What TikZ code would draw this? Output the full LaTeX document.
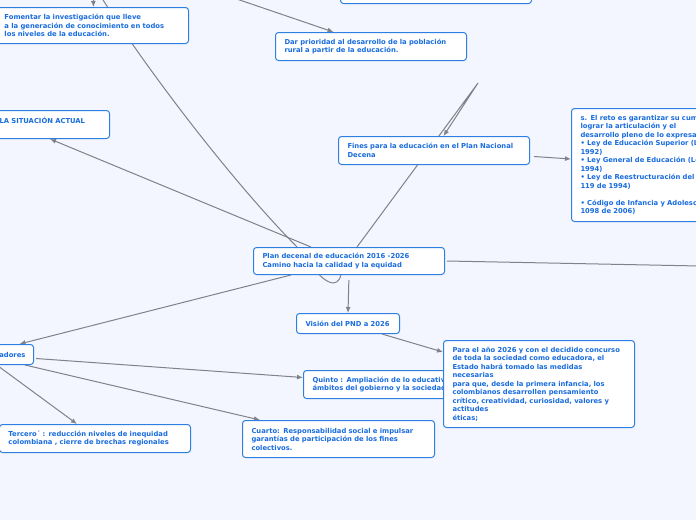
\documentclass[tikz,border=0pt]{standalone}
\usepackage{fontspec}
\newfontfamily\mapfont{DejaVu Sans}
\usetikzlibrary{arrows.meta}

\definecolor{paper}{RGB}{243,246,254}
\definecolor{boxblue}{RGB}{45,128,226}
\definecolor{inkblue}{RGB}{25,108,222}
\definecolor{wiregray}{RGB}{128,130,138}

\pgfdeclarelayer{bg}
\pgfdeclarelayer{wires}
\pgfsetlayers{bg,wires,main}

\tikzset{
  idea/.style={draw=boxblue, fill=white, line width=1pt, rounded corners=3pt,
    anchor=north west, inner xsep=9pt, inner ysep=2pt, align=left, text=inkblue,
    font={\mapfont\bfseries\fontsize{6.8}{8.5}\selectfont}},
  wire/.style={draw=wiregray, line width=1pt},
  link/.style={wire, -{Latex[length=6pt,width=5pt]}},
}

\begin{document}
\begin{tikzpicture}[x=1pt, y=-1pt]
  \useasboundingbox (0,0) rectangle (696,520);
  \begin{pgfonlayer}{bg}
    \fill[paper] (0,0) rectangle (696,520);
  \end{pgfonlayer}

  % ideas
  \node[idea, minimum width=193pt, minimum height=36pt, text width=175pt] (fomentar) at (-5,7)
    {Fomentar la investigación que lleve\\a la generación de conocimiento en todos\\los niveles de la educación.};
  \node[idea, anchor=south west, minimum width=191pt, minimum height=30pt] (arriba) at (340,4) {};
  \node[idea, minimum width=191pt, minimum height=28pt, text width=173pt] (rural) at (275,32)
    {Dar prioridad al desarrollo de la población\\rural a partir de la educación.};
  \node[idea, anchor=north east, minimum height=28pt, text width=101pt] (situacion) at (110,110)
    {LA SITUACIÓN ACTUAL\\\mbox{}};
  \node[idea, minimum width=191pt, minimum height=28pt, text width=173pt] (fines) at (338,136)
    {Fines para la educación en el Plan Nacional\\Decena};
  \node[idea, minimum width=200pt, minimum height=113pt, text width=182pt] (reto) at (571,108)
    {s. El reto es garantizar su cumplimiento,\\lograr la articulación y el\\desarrollo pleno de lo expresado\\%
     • Ley de Educación Superior (Ley 30 de\\1992)\\• Ley General de Educación (Ley 115 de\\1994)\\%
     • Ley de Reestructuración del SENA (Ley\\119 de 1994)\\[8.5pt]%
     • Código de Infancia y Adolescencia (Ley\\1098 de 2006)};
  \node[idea, minimum width=191pt, minimum height=27pt, text width=173pt] (plan) at (253,247)
    {Plan decenal de educación 2016 -2026\\Camino hacia la calidad y la equidad};
  \node[idea, minimum width=103pt, minimum height=20pt, text width=85pt] (vision) at (296,313)
    {Visión del PND a 2026};
  \node[idea, anchor=north east, minimum height=20pt, text width=60pt, align=right, inner xsep=8pt] (formadores) at (34,344)
    {adores};
  \node[idea, minimum width=191pt, minimum height=28pt, text width=173pt] (quinto) at (303,370)
    {Quinto : Ampliación de lo educativo a los\\ámbitos del gobierno y la sociedad};
  \node[idea, minimum width=191pt, minimum height=87pt, text width=173pt] (meta) at (443,340)
    {Para el año 2026 y con el decidido concurso\\de toda la sociedad como educadora, el\\Estado habrá tomado las medidas\\necesarias\\%
     para que, desde la primera infancia, los\\colombianos desarrollen pensamiento\\crítico, creatividad, curiosidad, valores y\\actitudes\\éticas;};
  \node[idea, minimum width=191pt, minimum height=28pt, text width=173pt] (tercero) at (-1,424)
    {Tercero´ : reducción niveles de inequidad\\colombiana , cierre de brechas regionales};
  \node[idea, minimum width=192pt, minimum height=37pt, text width=174pt] (cuarto) at (242,420)
    {Cuarto: Responsabilidad social e impulsar\\garantías de participación de los fines\\colectivos.};

  % loose ends
  \coordinate (fomcut) at (93,-10);
  \coordinate (curvecut) at (100,-5);
  \coordinate (ruralcut) at (225,-5);
  \coordinate (vuelta) at (478,83);
  \coordinate (derecha) at (700,266);
  \coordinate (izquierda) at (-6,363);

  % connectors
  \begin{pgfonlayer}{wires}
    \draw[link] (fomcut) -- ([xshift=1.5pt]fomentar.north);
    \draw[wire] (curvecut) .. controls (140,60) and (230,180) .. (300,250)
      .. controls (326,290) and (338,287) .. ([xshift=-8pt]plan.south);
    \draw[link] (ruralcut) -- ([xshift=-37.5pt]rural.north);
    \draw[link] ([xshift=8pt]plan.north) -- (vuelta) -- ([xshift=9.5pt]fines.north);
    \draw[link] ([xshift=-38pt]plan.north) -- (situacion.south);
    \draw[link] ([xshift=4pt,yshift=-6pt]fines.east) -- ([yshift=6pt]reto.west);
    \draw[wire] ([xshift=2pt]plan.east) -- (derecha);
    \draw[link, shorten <=5pt] (plan.south) -- (vision.north);
    \draw[link] ([xshift=-58pt]plan.south) -- ([xshift=24pt]formadores.north);
    \draw[link] ([xshift=34pt]vision.south) -- ([yshift=-12pt]meta.north west);
    \draw[link] ([xshift=2pt,yshift=-4pt]formadores.east) -- ([yshift=7pt]quinto.west);
    \draw[link] ([xshift=-9pt]formadores.south east) -- ([xshift=18pt]cuarto.north west);
    \draw[link] (izquierda) -- ([xshift=78pt]tercero.north west);
  \end{pgfonlayer}
\end{tikzpicture}
\end{document}
